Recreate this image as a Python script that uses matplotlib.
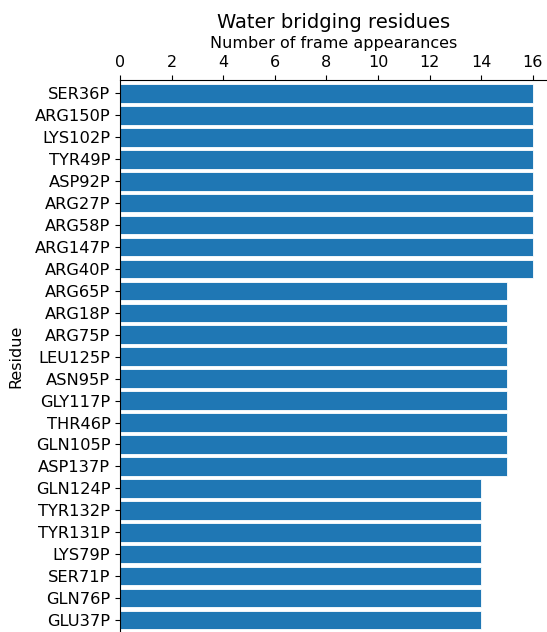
import matplotlib
matplotlib.use("Agg")
import matplotlib.pyplot as plt
import numpy as np

residues = ["SER36P", "ARG150P", "LYS102P", "TYR49P", "ASP92P", "ARG27P",
            "ARG58P", "ARG147P", "ARG40P", "ARG65P", "ARG18P", "ARG75P",
            "LEU125P", "ASN95P", "GLY117P", "THR46P", "GLN105P", "ASP137P",
            "GLN124P", "TYR132P", "TYR131P", "LYS79P", "SER71P", "GLN76P",
            "GLU37P"]
counts = [16, 16, 16, 16, 16, 16, 16, 16, 16,
          15, 15, 15, 15, 15, 15, 15, 15, 15,
          14, 14, 14, 14, 14, 14, 14]

fig = plt.figure(figsize=(5.47, 6.32), dpi=100)
ax = fig.add_axes([120 / 547, 0.0, 427 / 547, 552 / 632])

y = np.arange(len(residues))
ax.barh(y, counts, height=0.85, color="#1f77b4", edgecolor="white", linewidth=0.6)
ax.set_yticks(y)
ax.set_yticklabels(residues, fontsize=11.7)
ax.set_ylim(24.55, -0.615)
ax.set_xlim(0, 427 / 25.8)
ax.set_xticks(range(0, 17, 2))
ax.tick_params(axis="x", labelsize=11.5)

ax.xaxis.tick_top()
ax.xaxis.set_label_position("top")
ax.set_xlabel("Number of frame appearances", fontsize=11.5, labelpad=5)
ax.set_ylabel("Residue", fontsize=11.5, labelpad=8)
ax.set_title("Water bridging residues", fontsize=14, pad=6)

ax.spines["right"].set_visible(False)
ax.spines["bottom"].set_visible(False)

fig.savefig("out.png", dpi=100)
